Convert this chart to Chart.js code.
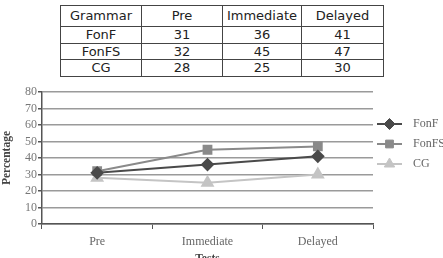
<!DOCTYPE html>
<html>
<head>
<meta charset="utf-8">
<script src="https://cdn.jsdelivr.net/npm/chart.js@4"></script>
<style>
  html, body { margin: 0; padding: 0; background: #fff; overflow: hidden; }
  body { width: 443px; height: 258px; position: relative; }
  #scoreTable {
    position: absolute; left: 60px; top: 5px; width: 323px;
    border-collapse: collapse; table-layout: fixed;
    font-family: "DejaVu Sans", sans-serif; font-size: 13px; color: #222;
  }
  #scoreTable td {
    border: 1.5px solid #444; text-align: center; padding: 0;
    height: 15.5px; line-height: 15.5px;
  }
  #scoreTable tr:first-child td { height: 20px; line-height: 20px; }
  #chartBox { position: absolute; left: 0; top: 80px; width: 443px; height: 190px; }
</style>
</head>
<body>
<table id="scoreTable">
  <colgroup><col style="width:81px"><col style="width:81px"><col style="width:79px"><col style="width:82px"></colgroup>
  <tbody></tbody>
</table>
<div id="chartBox"><canvas id="scoreChart" width="443" height="190"></canvas></div>
<script>
// data
const tests = ['Pre', 'Immediate', 'Delayed'];
const groups = ['FonF', 'FonFS', 'CG'];
const fonF = [31, 36, 41];
const fonFS = [32, 45, 47];
const cg = [28, 25, 30];
const yTicks = [0, 10, 20, 30, 40, 50, 60, 70, 80];

document.addEventListener('DOMContentLoaded', function() {
    // table above the chart
    const tbody = document.querySelector('#scoreTable tbody');
    const head = tbody.insertRow();
    ['Grammar'].concat(tests).forEach(t => { head.insertCell().innerText = t; });
    [fonF, fonFS, cg].forEach((vals, i) => {
        const row = tbody.insertRow();
        row.insertCell().innerText = groups[i];
        vals.forEach(v => { row.insertCell().innerText = v; });
    });

    const serif = '"Liberation Serif", "DejaVu Serif", serif';

    // legend with a short line through the marker, like the original
    const sideLegend = {
        id: 'sideLegend',
        afterDraw(chart) {
            const ctx = chart.ctx;
            chart.data.datasets.forEach((ds, i) => {
                const y = 44 + i * 20;
                ctx.save();
                ctx.strokeStyle = ds.borderColor;
                ctx.lineWidth = 2;
                ctx.beginPath();
                ctx.moveTo(377, y);
                ctx.lineTo(402, y);
                ctx.stroke();
                ctx.fillStyle = ds.pointBackgroundColor;
                ctx.strokeStyle = ds.pointBackgroundColor;
                ctx.lineWidth = 1;
                Chart.helpers.drawPoint(ctx, {
                    pointStyle: ds.pointStyle, radius: ds.pointRadius, borderWidth: 1
                }, 389.5, y);
                ctx.fillStyle = '#666';
                ctx.font = '12px ' + serif;
                ctx.textBaseline = 'middle';
                ctx.fillText(ds.label, 413, y);
                ctx.restore();
            });
        }
    };

    function series(label, data, color, style, radius) {
        return {
            label, data,
            borderColor: color, borderWidth: 2,
            pointStyle: style, pointRadius: radius,
            pointBackgroundColor: color, pointBorderColor: color,
            tension: 0
        };
    }

    new Chart(document.getElementById('scoreChart'), {
        type: 'line',
        data: {
            labels: tests,
            datasets: [
                series(groups[0], fonF, '#4a4a4a', 'rectRot', 5.5),
                series(groups[1], fonFS, '#8a8a8a', 'rect', 5.5),
                series(groups[2], cg, '#c4c4c4', 'triangle', 6)
            ]
        },
        plugins: [sideLegend],
        options: {
            responsive: false,
            animation: false,
            devicePixelRatio: 1,
            layout: { padding: { top: 12, right: 70, left: 0, bottom: 0 } },
            plugins: { legend: { display: false }, tooltip: { enabled: false } },
            scales: {
                x: {
                    offset: true,
                    grid: { offset: true, drawOnChartArea: false, tickLength: 5, tickColor: '#555' },
                    border: { color: '#555', width: 1.5 },
                    ticks: { color: '#666', font: { family: serif, size: 12 }, padding: 6, autoSkip: false, maxRotation: 0 },
                    title: { display: true, text: 'Tests', color: '#444', font: { family: serif, size: 11.5, weight: 'bold' }, padding: { top: 2 } },
                    afterFit(scale) { scale.height = 46; }
                },
                y: {
                    min: 0, max: 80,
                    afterBuildTicks(scale) { scale.ticks = yTicks.map(v => ({ value: v })); },
                    grid: { color: '#9a9a9a', lineWidth: 1.5, tickLength: 4, tickColor: '#555' },
                    border: { color: '#555', width: 1.5 },
                    ticks: { color: '#777', font: { family: serif, size: 12 }, padding: 1, autoSkip: false },
                    title: { display: true, text: 'Percentage', color: '#444', font: { family: serif, size: 11.5, weight: 'bold' }, padding: 0 },
                    afterFit(scale) { scale.width = 42; }
                }
            }
        }
    });
});
</script>
</body>
</html>
